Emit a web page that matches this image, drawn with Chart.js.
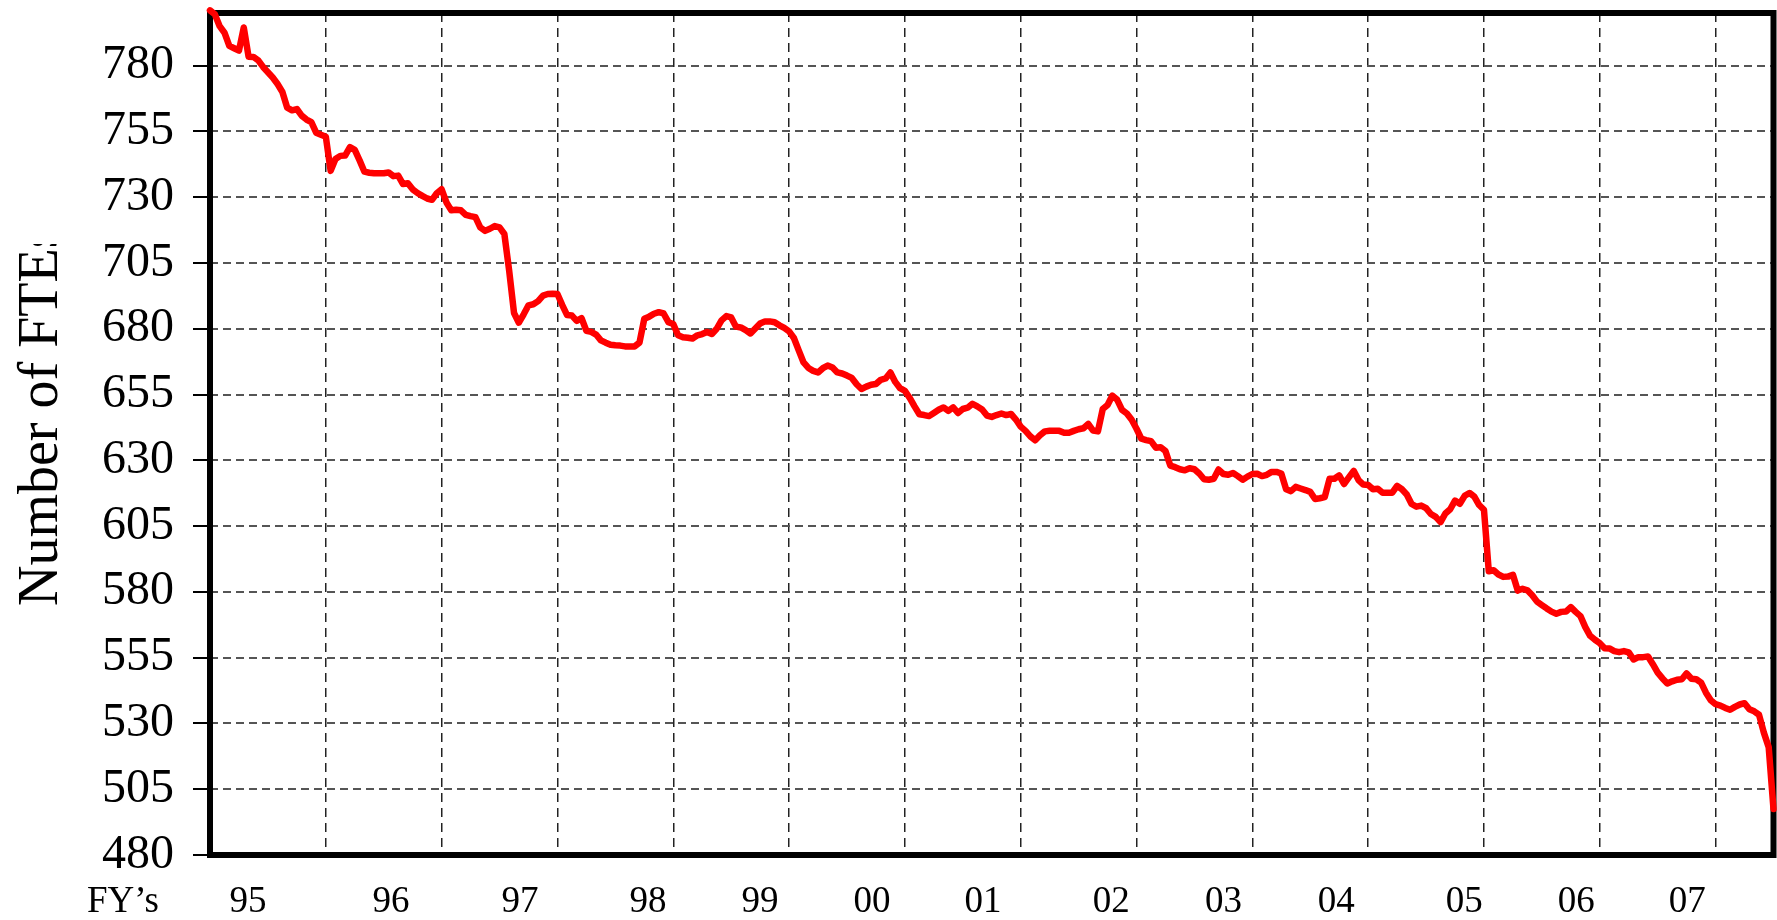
<!DOCTYPE html>
<html>
<head>
<meta charset="utf-8">
<script src="https://cdn.jsdelivr.net/npm/chart.js@4.4.1/dist/chart.umd.min.js"></script>
<style>
  html, body { margin: 0; padding: 0; background: #ffffff; overflow: hidden; }
  canvas { display: block; }
</style>
</head>
<body>
<canvas id="c" width="1777" height="920"></canvas>
<script>
// ---- data ----
const periodsPerYear = 24;            // readings per fiscal year (semi-monthly)
const fte = [
  801, 799.5, 795, 792.5, 787.5, 786.6, 785.7, 794.5, 783.4, 783.3, 782, 779.5,
  777.5, 775.5, 773, 770, 764, 763, 763.5, 761, 759.5, 758.5, 754.5, 753.7,
  753, 740, 744.5, 745.7, 745.8, 749, 748, 744, 739.7, 739.3, 739.1, 739.1,
  739.1, 739.4, 738, 738.2, 735, 735.3, 733, 731.6, 730.5, 729.5, 729, 731.5,
  733, 728, 725, 725.2, 725, 723.3, 722.8, 722.4, 718.5, 717.2, 718, 719,
  718.5, 716, 702, 686, 682.3, 685.5, 688.9, 689.3, 690.5, 692.6, 693.2, 693.3,
  693.2, 689, 685.2, 685, 683, 684, 679.2, 678.8, 677.8, 675.6, 674.7, 673.9,
  673.7, 673.6, 673.3, 673.3, 673.3, 674.7, 683.8, 684.6, 685.7, 686.3, 685.8, 682.5,
  681.8, 677.5, 676.8, 676.6, 676.3, 677.5, 678, 678.8, 678, 680, 683.2, 684.8,
  684.3, 680.8, 680.5, 679.5, 678.2, 680.1, 682, 682.8, 682.8, 682.5, 681.3, 680.3,
  679, 676.5, 671.8, 667.2, 665.1, 664, 663.4, 665, 666, 665.3, 663.4, 663,
  662.2, 661.3, 658.9, 657.1, 658, 658.7, 659, 660.6, 661.1, 663.4, 659.8, 657.4,
  656.4, 653.7, 650.5, 647.5, 647.2, 646.8, 648, 649.2, 650.1, 648.8, 650.1, 648,
  649.5, 650, 651.5, 650.5, 649.3, 647, 646.5, 647.2, 647.8, 647.2, 647.6, 645.5,
  642.8, 641.2, 639.1, 637.6, 639.5, 641, 641.2, 641.2, 641.2, 640.5, 640.5, 641.2,
  641.8, 642.2, 643.8, 641.3, 641, 649.5, 651, 654.6, 653, 649.2, 647.8, 645.4,
  642, 638.2, 637.7, 637.3, 634.8, 635, 633.5, 628, 627.4, 626.6, 626.2, 627,
  626.6, 625, 622.8, 622.6, 623, 626.5, 624.8, 624.5, 625.2, 624, 622.6, 623.8,
  624.8, 624.9, 624, 624.5, 625.6, 625.6, 625, 619, 618.3, 619.9, 619.3, 618.7,
  618, 615.3, 615.6, 616, 623, 623, 624.3, 621, 623.5, 626, 622.5, 620.8,
  620.6, 619, 619.2, 617.7, 617.7, 617.7, 620.3, 619, 617, 613.4, 612.4, 612.8,
  611.8, 609.6, 608.5, 606.5, 609.8, 611.4, 614.7, 613.5, 616.5, 617.6, 616.2, 613,
  611.2, 587.8, 588.2, 586.6, 585.7, 585.8, 586.5, 580.5, 581.2, 580.6, 578.7, 576.3,
  575, 573.7, 572.5, 571.7, 572.4, 572.5, 574.2, 572.4, 570.8, 566.6, 563.3, 561.8,
  560.5, 558.6, 558.5, 557.5, 557.1, 557.5, 557, 554.3, 555.2, 555.2, 555.4, 552.5,
  549.3, 547.1, 545.2, 546, 546.6, 546.8, 549, 547, 546.8, 545.5, 541.7, 538.8,
  537.3, 536.8, 535.9, 535.2, 536.3, 537.2, 537.7, 535.4, 534.6, 533.3, 526.5, 521,
  497.5
];
const yTicks = [480, 505, 530, 555, 580, 605, 630, 655, 680, 705, 730, 755, 780];
const fyLabels = ['95', '96', '97', '98', '99', '00', '01', '02', '03', '04', '05', '06', '07'];
const fyLabelAt = [0.328, 1.563, 2.677, 3.782, 4.75, 5.717, 6.675, 7.781, 8.752, 9.724, 10.829, 11.796, 12.755];
const fyBoundaries = [1, 2, 3, 4, 5, 6, 7, 8, 9, 10, 11, 12, 13];
const yRange = [480, 800];
const xRange = [0, 13.5];
const yTitle = 'Number of FTEs';
const xTitle = 'FY\u2019s';

// ---- chart ----
Chart.defaults.font.family = "'Liberation Serif', 'Times New Roman', serif";
Chart.defaults.color = '#000';

const points = fte.map((v, i) => ({ x: i / periodsPerYear, y: v }));

const framePlugin = {
  id: 'frame',
  beforeDatasetsDraw(chart) {
    const a = chart.chartArea, ctx = chart.ctx;
    ctx.save();
    ctx.strokeStyle = '#000';
    ctx.lineWidth = 6;
    ctx.strokeRect(a.left, a.top, a.right - a.left, a.bottom - a.top);
    ctx.restore();
  }
};

const textPlugin = {
  id: 'texts',
  afterDraw(chart) {
    const ctx = chart.ctx;
    const s = chart.scales.x2;
    ctx.save();
    ctx.fillStyle = '#000';
    ctx.font = "37px 'Liberation Serif', serif";
    ctx.textAlign = 'center';
    ctx.textBaseline = 'middle';
    ctx.fillText(xTitle, 123, s.top + 25 + 37 * 1.2 / 2);
    ctx.restore();

    ctx.save();
    ctx.beginPath();
    ctx.rect(0, 244, 120, 700);
    ctx.clip();
    ctx.translate(57, 606);
    ctx.rotate(-Math.PI / 2);
    ctx.fillStyle = '#000';
    ctx.font = "56px 'Liberation Serif', serif";
    ctx.textAlign = 'left';
    ctx.textBaseline = 'alphabetic';
    ctx.fillText(yTitle, 0, 0);
    ctx.restore();
  }
};

new Chart(document.getElementById('c'), {
  type: 'line',
  data: {
    datasets: [{
      data: points,
      borderColor: '#ff0000',
      borderWidth: 6.5,
      pointRadius: 0,
      tension: 0,
      borderJoinStyle: 'round',
      borderCapStyle: 'round',
      clip: false,
      fill: false
    }]
  },
  options: {
    responsive: false,
    devicePixelRatio: 1,
    animation: false,
    parsing: true,
    layout: { padding: { left: 0, right: 3.5, top: 13, bottom: 0 } },
    plugins: { legend: { display: false }, tooltip: { enabled: false } },
    scales: {
      x: {
        type: 'linear', position: 'bottom', min: xRange[0], max: xRange[1],
        afterBuildTicks: s => { s.ticks = fyBoundaries.map(v => ({ value: v })); },
        afterFit: s => { s.height = 0; s.paddingLeft = 0; s.paddingRight = 0; },
        ticks: { display: false },
        grid: { color: '#222', lineWidth: 1.5, drawTicks: false },
        border: { display: false, dash: [9, 6] }
      },
      x2: {
        type: 'linear', position: 'bottom', min: xRange[0], max: xRange[1],
        afterBuildTicks: s => { s.ticks = fyLabelAt.map(v => ({ value: v })); },
        afterFit: s => { s.height = 65; s.paddingLeft = 0; s.paddingRight = 0; },
        ticks: {
          font: { size: 37 }, color: '#000', padding: 25, autoSkip: false, maxRotation: 0,
          callback: (v, i) => fyLabels[i]
        },
        grid: { display: false, drawTicks: false },
        border: { display: false }
      },
      y: {
        type: 'linear', position: 'left', min: yRange[0], max: yRange[1],
        afterBuildTicks: s => { s.ticks = yTicks.map(v => ({ value: v })); },
        afterFit: s => { s.width = 210; s.paddingTop = 0; s.paddingBottom = 0; },
        ticks: { font: { size: 48 }, color: '#000', padding: 19, autoSkip: false, callback: v => String(v) },
        grid: { color: '#555', lineWidth: 2, tickLength: 17, tickColor: '#000', tickWidth: 2, tickBorderDash: [] },
        border: { display: false, dash: [8, 5] }
      }
    }
  },
  plugins: [framePlugin, textPlugin]
});
</script>
</body>
</html>
